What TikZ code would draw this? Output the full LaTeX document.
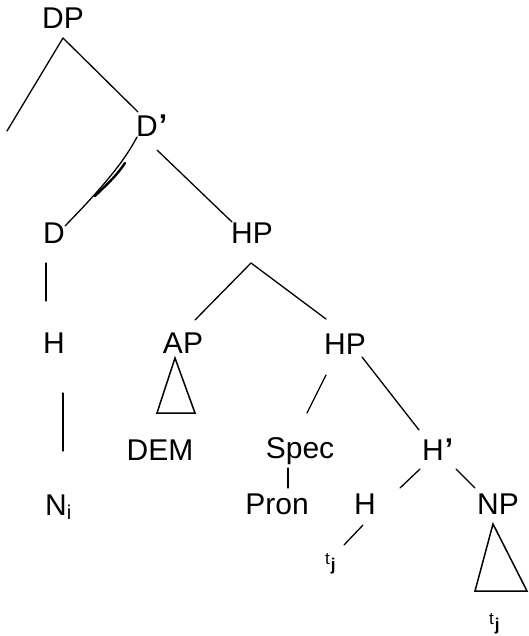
\documentclass[tikz,border=0pt]{standalone}
\usepackage{fontspec}
\setmainfont{Liberation Sans}
\newcommand{\myprime}{\rlap{\kern1pt\raisebox{1pt}{\bfseries\char"0027}}}
\begin{document}
\begin{tikzpicture}[x=1pt,y=-1pt,
  lab/.style={font=\fontsize{30}{36}\selectfont, inner sep=0pt, anchor=base},
  sm/.style={font=\fontsize{17}{20}\selectfont, inner sep=0pt, anchor=base west},
  br/.style={line width=1.3pt, line cap=round},
  tri/.style={line width=1.5pt, line join=miter}]
\useasboundingbox (0,0) rectangle (528,636);
% labels
\node[lab] (dp) at (63,29) {DP};
\node[lab] (dbar) at (147,137) {D\myprime};
\node[lab] (d) at (54,243) {D};
\node[lab] (hp1) at (252,243) {HP};
\node[lab] (h1) at (54,353) {H};
\node[lab] (ap) at (183,353) {AP};
\node[lab] (hp2) at (345,354) {HP};
\node[lab] (dem) at (160,460) {DEM};
\node[lab] (spec) at (300,458) {Spec};
\node[lab] (hbar) at (433,460) {H\myprime};
\node[lab, anchor=base west] (ni) at (45,515) {N\raisebox{-4pt}{\fontsize{20}{20}\selectfont i}};
\node[lab] (pron) at (277,514) {Pron};
\node[lab] (h2) at (365,514) {H};
\node[lab] (np) at (498,514) {NP};
\node[sm] (tj1) at (325,564) {t\kern1pt\raisebox{-6pt}{\bfseries j}};
\node[sm] (tj2) at (489,624) {t\kern1pt\raisebox{-6pt}{\bfseries j}};
% connector ends
\coordinate (dpB) at (63,38);
\coordinate (free) at (7,131);
\coordinate (dbarT) at (138,112);
\coordinate (dbarL) at (137,137);
\coordinate (dT) at (65,226);
\coordinate (dbarR) at (157,150);
\coordinate (hp1T) at (232,222);
\coordinate (dB) at (46,263);
\coordinate (h1T) at (46,301);
\coordinate (h1B) at (63,393);
\coordinate (niT) at (63,451);
\coordinate (hp1B) at (251,263);
\coordinate (apT) at (195,320);
\coordinate (hp2T) at (326,319);
\coordinate (hp2L) at (326,375);
\coordinate (specT) at (307,413);
\coordinate (hp2R) at (362,357);
\coordinate (hbarT) at (419,430);
\coordinate (specB) at (288,468);
\coordinate (pronT) at (288,488);
\coordinate (hbarL) at (420,469);
\coordinate (h2T) at (400,488);
\coordinate (hbarR) at (456,469);
\coordinate (npT) at (475,488);
\coordinate (h2B) at (363,525);
\coordinate (tj1T) at (344,545);
% branches
\draw[br] (dpB) -- (free);
\draw[br] (dpB) -- (dbarT);
\draw[br] (dbarL) .. controls (125,160) and (105,185) .. (dT);
\draw[line width=2.4pt, line cap=round] (125,163) .. controls (115,178) and (105,186) .. (95,196);
\draw[br] (dbarR) -- (hp1T);
\draw[br] (dB) -- (h1T);
\draw[br] (h1B) -- (niT);
\draw[br] (hp1B) -- (apT);
\draw[br] (hp1B) -- (hp2T);
\draw[br] (hp2L) -- (specT);
\draw[br] (hp2R) -- (hbarT);
\draw[br] (specB) -- (pronT);
\draw[br] (hbarL) -- (h2T);
\draw[br] (hbarR) -- (npT);
\draw[br] (h2B) -- (tj1T);
% triangles
\draw[tri] (175,358) -- (157,413) -- (195,413) -- cycle;
\draw[tri] (493,524) -- (475,591) -- (527,591) -- cycle;
\end{tikzpicture}
\end{document}
